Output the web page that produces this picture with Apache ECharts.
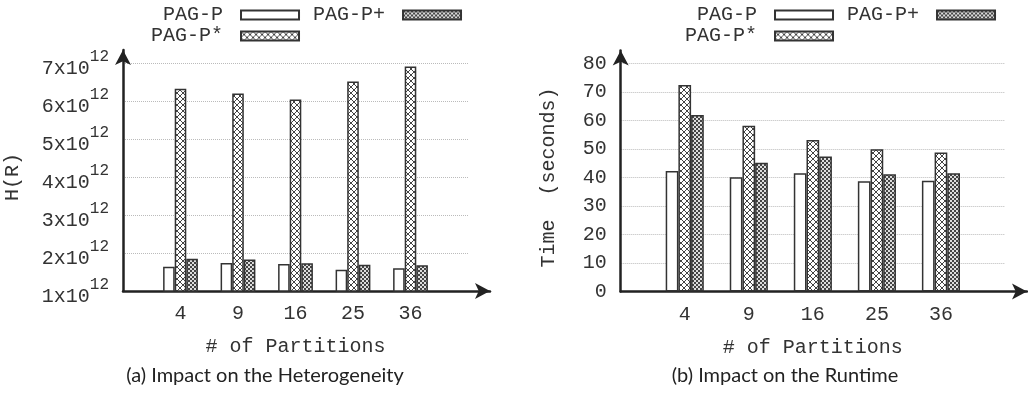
<!DOCTYPE html>
<html>
<head>
<meta charset="utf-8">
<script src="https://cdn.jsdelivr.net/npm/echarts@6/dist/echarts.min.js"></script>
<style>
  html, body { margin: 0; padding: 0; background: #fff; }
  #main { width: 1028px; height: 393px; }
</style>
</head>
<body>
<div id="main"></div>
<script>
// categories and series
var partitions = ['4', '9', '16', '25', '36'];
var seriesNames = ['PAG-P', 'PAG-P*', 'PAG-P+'];

// (a) heterogeneity H(R), in units of 10^12
var heteroP    = [1.64, 1.74, 1.71, 1.56, 1.60];
var heteroStar = [6.32, 6.20, 6.04, 6.51, 6.91];
var heteroPlus = [1.85, 1.83, 1.73, 1.69, 1.68];
var heteroTicks = [1, 2, 3, 4, 5, 6, 7];

// (b) runtime in seconds
var timeP    = [42.3, 40.1, 41.5, 38.7, 38.9];
var timeStar = [72.5, 58.2, 53.2, 49.9, 48.8];
var timePlus = [61.9, 45.2, 47.4, 41.1, 41.5];
var timeTicks = [0, 10, 20, 30, 40, 50, 60, 70, 80];

var mono = '"Liberation Mono", "Courier New", monospace';
var textColor = '#333';

// fill patterns like the gnuplot ones
function makePattern(kind) {
    var c = document.createElement('canvas');
    var ctx = c.getContext('2d');
    if (kind === 'cross') {
        c.width = 6; c.height = 6;
        ctx.fillStyle = '#fff';
        ctx.fillRect(0, 0, 6, 6);
        ctx.strokeStyle = '#444';
        ctx.lineWidth = 1;
        ctx.beginPath();
        ctx.moveTo(-1, -1); ctx.lineTo(7, 7);
        ctx.moveTo(7, -1); ctx.lineTo(-1, 7);
        ctx.stroke();
    } else {
        c.width = 4; c.height = 4;
        ctx.fillStyle = '#ddd';
        ctx.fillRect(0, 0, 4, 4);
        ctx.fillStyle = '#444';
        ctx.fillRect(0, 0, 2, 2);
        ctx.fillRect(2, 2, 2, 2);
    }
    return { image: c, repeat: 'repeat' };
}
var fills = ['#fff', makePattern('cross'), makePattern('check')];

// padding categories so the bars sit where the original ones do
var axisCats = [''].concat(partitions, ['']);
function padData(arr) { return [null].concat(arr, [null]); }

function arrowAxis(gridIndex) {
    return {
        type: 'value', gridIndex: gridIndex, min: 0, max: 1,
        axisLine: { show: true, symbol: ['none', 'arrow'], symbolSize: [12, 15],
            lineStyle: { color: '#222', width: 2.5 } },
        axisTick: { show: false }, axisLabel: { show: false }, splitLine: { show: false }
    };
}

function catAxis(gridIndex) {
    return {
        type: 'category', gridIndex: gridIndex, data: axisCats, boundaryGap: false,
        axisLine: { show: false }, axisTick: { show: false },
        axisLabel: { interval: 0, margin: 13, fontFamily: mono, fontSize: 20, color: textColor },
        name: '# of Partitions', nameLocation: 'middle', nameGap: 46,
        nameTextStyle: { fontFamily: mono, fontSize: 20, color: textColor }
    };
}

var gridLine = { show: true, lineStyle: { type: 'dotted', color: '#bbb', width: 1 } };

function barSeries(xi, yi, lists, width) {
    return lists.map(function (vals, i) {
        return {
            name: seriesNames[i], type: 'bar', xAxisIndex: xi, yAxisIndex: yi,
            data: padData(vals), barWidth: width, barGap: '0%',
            itemStyle: { color: fills[i], borderColor: '#333', borderWidth: 1.5 },
            emphasis: { disabled: true }
        };
    });
}

// two rows, filled column by column, text left of the swatch
function legendAt(left) {
    return {
        data: seriesNames, orient: 'vertical', align: 'right', left: left - 12, top: 5,
        height: 45, padding: 0, itemGap: 1, itemWidth: 58, itemHeight: 9,
        icon: 'rect', selectedMode: false,
        formatter: function (n) { return n.padStart(6); },
        textStyle: { fontFamily: mono, fontSize: 20, color: textColor, lineHeight: 20,
            padding: [0, 13, 0, 12] }
    };
}

var myChart = echarts.init(document.getElementById('main'));

var option = {
    animation: false,
    backgroundColor: '#fff',
    title: [{
        text: '(a) Impact on the Heterogeneity', left: 265, top: 366, textAlign: 'center', padding: 0,
        textStyle: { fontFamily: 'Lato', fontSize: 20, fontWeight: 'normal', color: '#222' }
    }, {
        text: '(b) Impact on the Runtime', left: 785, top: 366, textAlign: 'center', padding: 0,
        textStyle: { fontFamily: 'Lato', fontSize: 20, fontWeight: 'normal', color: '#222' }
    }],
    legend: [legendAt(151), legendAt(685)],
    grid: [
        { left: 123, right: 560, top: 63, bottom: 102 },
        { left: 123, right: 538, top: 50, bottom: 102 },
        { left: 620.7, right: 23, top: 63.5, bottom: 101.5 },
        { left: 620.7, right: 1, top: 50.5, bottom: 101.5 }
    ],
    xAxis: [catAxis(0), arrowAxis(1), catAxis(2), arrowAxis(3)],
    yAxis: [{
        type: 'value', gridIndex: 0,
        min: heteroTicks[0], max: heteroTicks[heteroTicks.length - 1], interval: heteroTicks[1] - heteroTicks[0],
        axisLine: { show: false }, axisTick: { show: false }, splitLine: gridLine,
        axisLabel: {
            margin: 14, padding: [2, 0, 0, 0],
            formatter: function (v) { return '{b|' + v + 'x10}{s|12}'; },
            rich: {
                b: { fontFamily: mono, fontSize: 20, color: textColor, lineHeight: 30, verticalAlign: 'bottom' },
                s: { fontFamily: mono, fontSize: 16, color: textColor, lineHeight: 14, verticalAlign: 'top' }
            }
        },
        name: 'H(R)', nameLocation: 'middle', nameGap: 100,
        nameTextStyle: { fontFamily: mono, fontSize: 20, color: textColor }
    }, arrowAxis(1), {
        type: 'value', gridIndex: 2,
        min: timeTicks[0], max: timeTicks[timeTicks.length - 1], interval: timeTicks[1] - timeTicks[0],
        axisLine: { show: false }, axisTick: { show: false }, splitLine: gridLine,
        axisLabel: { margin: 14, padding: [8, 0, 0, 0], fontFamily: mono, fontSize: 20, color: textColor },
        name: 'Time  (seconds)', nameLocation: 'middle', nameGap: 62,
        nameTextStyle: { fontFamily: mono, fontSize: 20, color: textColor }
    }, arrowAxis(3)],
    series: barSeries(0, 0, [heteroP, heteroStar, heteroPlus], 11.6)
        .concat(barSeries(2, 2, [timeP, timeStar, timePlus], 12.7))
};

myChart.setOption(option);
</script>
</body>
</html>
